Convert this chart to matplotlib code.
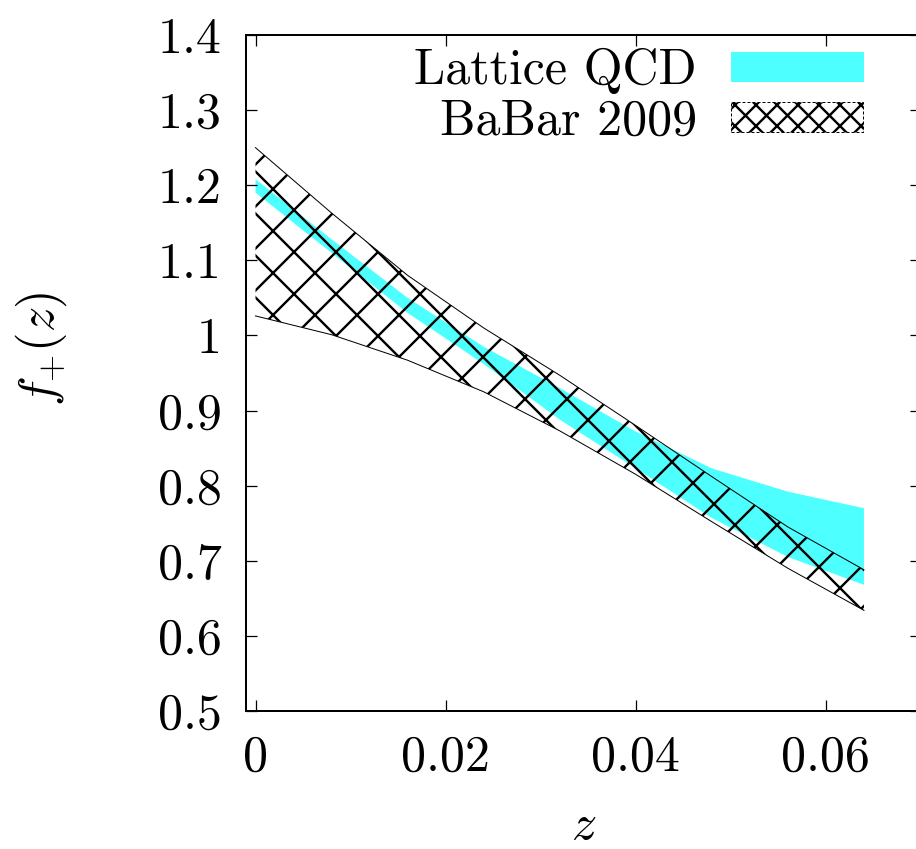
import numpy as np
import matplotlib
matplotlib.use("Agg")
import matplotlib.pyplot as plt
from matplotlib.patches import Patch

# the hatch cell size follows the dpi, so sizes below are given in pixels
dpi = 126
P = 72 / dpi

plt.rcParams['font.family'] = 'serif'
plt.rcParams['font.serif'] = ['cmr10']
plt.rcParams['mathtext.fontset'] = 'cm'
plt.rcParams['axes.unicode_minus'] = False
plt.rcParams['hatch.linewidth'] = 2.4 * P

# form factor bands on a grid in z
z = [0.0, 0.008, 0.016, 0.024, 0.032, 0.040, 0.048, 0.056, 0.064]
lat_hi = [1.208, 1.128, 1.050, 0.985, 0.930, 0.872, 0.823, 0.792, 0.770]
lat_lo = [1.190, 1.110, 1.030, 0.962, 0.888, 0.823, 0.757, 0.705, 0.668]
bab_hi = [1.250, 1.163, 1.080, 1.010, 0.947, 0.880, 0.812, 0.745, 0.688]
bab_lo = [1.026, 1.001, 0.967, 0.925, 0.873, 0.815, 0.752, 0.690, 0.634]

xticks = [0.0, 0.02, 0.04, 0.06]
xticklabels = ['0', '0.02', '0.04', '0.06']
yticks = [0.5, 0.6, 0.7, 0.8, 0.9, 1.0, 1.1, 1.2, 1.3, 1.4]
yticklabels = ['0.5', '0.6', '0.7', '0.8', '0.9', '1', '1.1', '1.2', '1.3', '1.4']

fs = 50 * P
fig = plt.figure(figsize=(916 / dpi, 849 / dpi), dpi=dpi)
ax = fig.add_axes([246 / 916, 138 / 849, 675 / 916, 676 / 849])

ax.fill_between(z, lat_lo, lat_hi, facecolor='#4dffff', edgecolor='none', lw=0)
ax.fill_between(z, bab_lo, bab_hi, facecolor='none', edgecolor='black',
                hatch='x', lw=0)
ax.plot(z, bab_hi, color='black', lw=1.0 * P)
ax.plot(z, bab_lo, color='black', lw=1.0 * P)

ax.set_xlim(-0.001, 0.07)
ax.set_ylim(0.5, 1.4)
ax.set_xticks(xticks)
ax.set_xticklabels(xticklabels)
ax.set_yticks(yticks)
ax.set_yticklabels(yticklabels)
ax.tick_params(direction='in', top=True, right=True, length=11 * P,
               width=1.25 * P, labelsize=fs, pad=24 * P)
for s in ax.spines.values():
    s.set_linewidth(2.0 * P)

ax.set_xlabel(r'$z$', fontsize=fs)
ax.set_ylabel(r'$f_{+}(z)$', fontsize=fs)
ax.xaxis.set_label_coords(0.5, -0.136)
ax.yaxis.set_label_coords(-0.262, 0.535)

handles = [
    Patch(facecolor='#4dffff', edgecolor='#4dffff', lw=1.0 * P),
    Patch(facecolor='white', edgecolor='black', hatch='xx',
          linestyle=(0, (3, 2)), lw=1.0 * P),
]
ax.legend(handles, ['Lattice QCD', 'BaBar 2009'], loc='upper right',
          bbox_to_anchor=(0.914, 0.981), frameon=False, markerfirst=False,
          fontsize=fs, handlelength=2.64, handleheight=0.52,
          handletextpad=0.68, labelspacing=0.10, borderpad=0,
          borderaxespad=0)

fig.savefig('out.png', dpi=dpi)
